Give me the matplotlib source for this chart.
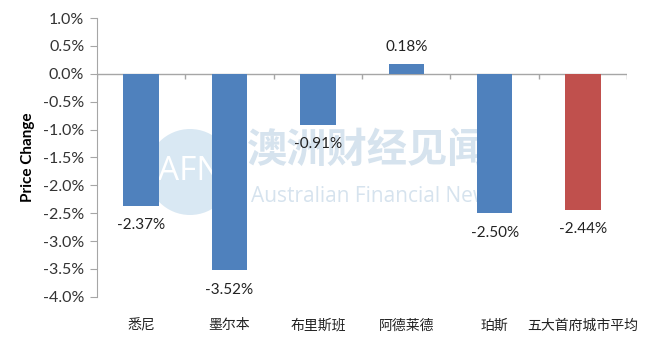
import numpy as np
import matplotlib.pyplot as plt
from matplotlib.patches import Circle

plt.rcParams['font.family'] = ['Lato', 'Noto Sans CJK SC', 'DejaVu Sans']

cities = ['悉尼', '墨尔本', '布里斯班', '阿德莱德', '珀斯', '五大首府城市平均']
change = [-2.37, -3.52, -0.91, 0.18, -2.50, -2.44]
colors = ['#4F81BD'] * 5 + ['#C0504D']
yticks = np.arange(-4.0, 1.01, 0.5)

fig = plt.figure(figsize=(6.5, 3.53), dpi=100)
ax = fig.add_axes([0.149, 0.159, 0.816, 0.79])
ax.set_zorder(2)
ax.patch.set_alpha(0)

# 워터마크 (연한 배경)
logo = Circle((1.90, (353 - 172) / 100), 0.43, transform=fig.dpi_scale_trans,
              facecolor='#d9e8f3', edgecolor='none', zorder=0)
fig.patches.append(logo)
fig.text(190 / 650, 1 - 172 / 353, 'AFN', color='white', fontsize=24, ha='center', va='center',
         family=['Open Sans'], zorder=1)
fig.text(368 / 650, 1 - 150 / 353, '澳洲财经见闻', color='#d6e3ee', fontsize=29, ha='center',
         va='center', fontweight='bold', zorder=1)
fig.text(375 / 650, 1 - 196 / 353, 'Australian Financial News', color='#d6e3ee', fontsize=15,
         ha='center', va='center', family=['Open Sans'], zorder=1)

x = np.arange(len(cities))
ax.bar(x, change, width=0.4, color=colors, zorder=3)

for xi, v in zip(x, change):
    off = 12 if v > 0 else -14
    ax.annotate(f'{v:.2f}%', (xi, v), xytext=(0, off), textcoords='offset points',
                ha='center', va='center', fontsize=11, color='#222222')

# 0선과 구분 눈금
ax.axhline(0, color='#a6a6a6', lw=1, zorder=2)
ax.vlines(np.arange(len(cities) + 1) - 0.5, -0.09, 0, color='#a6a6a6', lw=1, zorder=2)

ax.set_xlim(-0.5, len(cities) - 0.5)
ax.set_ylim(-4.0, 1.0)
ax.set_yticks(yticks)
ax.set_yticklabels([f'{t:.1f}%' for t in yticks], fontsize=11.5, color='#333333')
ax.tick_params(axis='y', length=5, color='#a6a6a6', pad=4)
ax.set_xticks([])
for xi, c in zip(x, cities):
    ax.text(xi, -0.1, c, transform=ax.get_xaxis_transform(), ha='center', va='center',
            fontsize=10, color='#222222')

for s in ['top', 'right', 'bottom']:
    ax.spines[s].set_visible(False)
ax.spines['left'].set_color('#a6a6a6')
ax.set_ylabel('Price Change', fontsize=11, fontweight='bold', labelpad=6)

fig.savefig('out.png', dpi=100)
